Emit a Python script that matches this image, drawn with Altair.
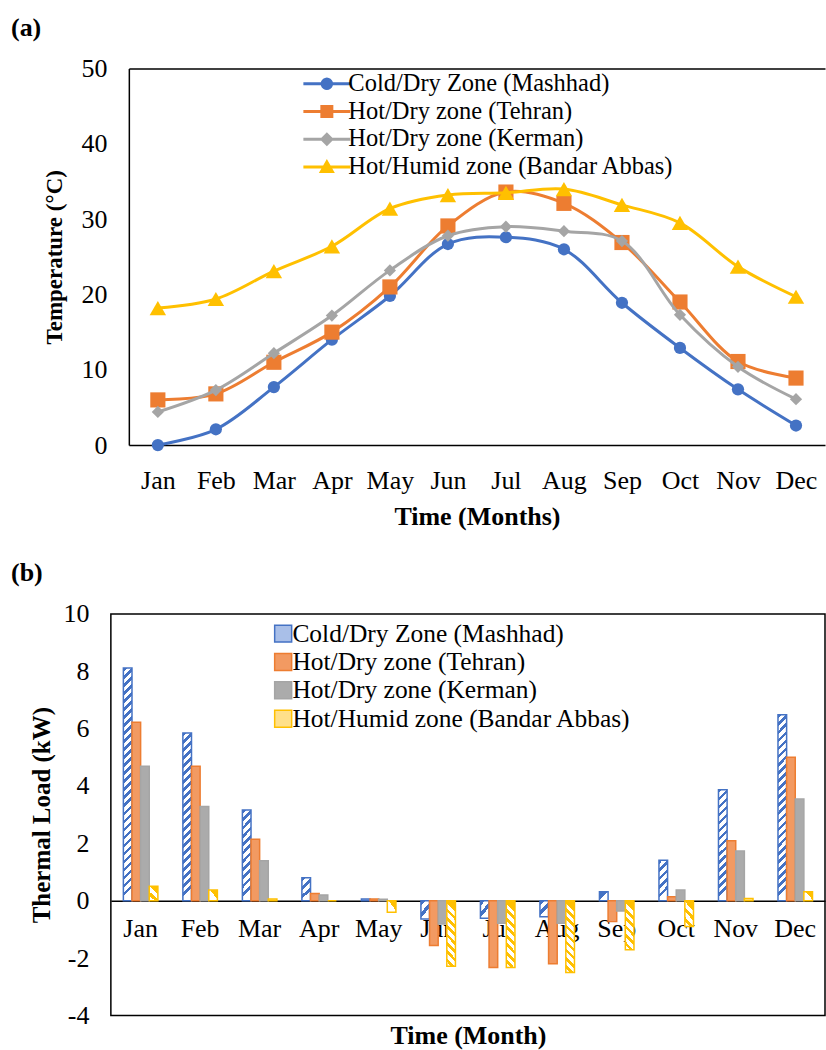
import math
import altair as alt
import pandas as pd

# ---------------- data ----------------
months = ["Jan", "Feb", "Mar", "Apr", "May", "Jun", "Jul", "Aug", "Sep", "Oct", "Nov", "Dec"]
zones = ["Cold/Dry Zone (Mashhad)", "Hot/Dry zone (Tehran)", "Hot/Dry zone (Kerman)", "Hot/Humid zone (Bandar Abbas)"]

temp_mashhad = [0.0, 2.1, 7.7, 14.0, 19.8, 26.7, 27.6, 26.0, 18.9, 12.9, 7.4, 2.6]
temp_tehran = [6.0, 6.8, 11.0, 15.0, 21.0, 29.1, 33.6, 32.1, 26.9, 19.0, 11.1, 8.9]
temp_kerman = [4.4, 7.3, 12.2, 17.2, 23.2, 27.8, 29.0, 28.4, 27.1, 17.3, 10.4, 6.1]
temp_bandar = [18.2, 19.4, 23.1, 26.4, 31.4, 33.2, 33.5, 34.0, 31.9, 29.5, 23.7, 19.7]

load_mashhad = [8.11, 5.85, 3.16, 0.80, 0.06, -0.64, -0.61, -0.56, 0.31, 1.41, 3.87, 6.48]
load_tehran = [6.22, 4.69, 2.14, 0.25, 0.06, -1.56, -2.33, -2.20, -0.73, 0.14, 2.09, 5.00]
load_kerman = [4.69, 3.28, 1.39, 0.20, 0.05, -0.81, -0.79, -0.79, -0.36, 0.37, 1.73, 3.55]
load_bandar = [0.50, 0.37, 0.06, 0.00, -0.40, -2.29, -2.33, -2.50, -1.71, -0.90, 0.08, 0.31]

temp_ticks = [0, 10, 20, 30, 40, 50]
load_ticks = [-4, -2, 0, 2, 4, 6, 8, 10]

# ---------------- style ----------------
FONT = "Liberation Serif"
line_colors = ["#4472C4", "#ED7D31", "#A5A5A5", "#FFC000"]
marker_shapes = ["circle", "square", "diamond", "triangle-up"]
marker_sizes = [150, 230, 150, 270]
bar_fills = ["#A9BFE8", "#F29A62", "#ABABAB", "#FFE08A"]
bar_strokes = ["#4472C4", "#ED7D31", "#A5A5A5", "#FFC000"]

GROUP_W = 715          # both panels share the same origin and group width
TOP_SHIFT = 18         # panel (a) frame starts 18 px right of panel (b) frame
TOP_H = 377
BOT_H = 402
BOT_DOMAIN = [-4, 10]
PAD_INNER = 0.42


def _poly(points):
    return "M" + "L".join(f"{x:.3f},{y:.3f}" for x, y in points) + "Z"


# legend symbols for the line chart: line segment + marker (units: 10 px)
_seg = _poly([(-2.35, -0.15), (2.35, -0.15), (2.35, 0.15), (-2.35, 0.15)])
_circ = _poly([(0.62 * math.cos(2 * math.pi * i / 20), 0.62 * math.sin(2 * math.pi * i / 20)) for i in range(20)])
legend_paths = [
    _seg + _circ,
    _seg + _poly([(-0.65, -0.65), (0.65, -0.65), (0.65, 0.65), (-0.65, 0.65)]),
    _seg + _poly([(0, -0.7), (0.7, 0), (0, 0.7), (-0.7, 0)]),
    _seg + _poly([(0, -0.8), (0.8, 0.6), (-0.8, 0.6)]),
]

# ---------------- tables ----------------
rows = []
for z, vals in zip(zones, [temp_mashhad, temp_tehran, temp_kerman, temp_bandar]):
    for m, v in zip(months, vals):
        rows.append({"month": m, "zone": z, "temp": v})
df_t = pd.DataFrame(rows)

rows = []
for z, vals in zip(zones, [load_mashhad, load_tehran, load_kerman, load_bandar]):
    for m, v in zip(months, vals):
        rows.append({"month": m, "zone": z, "load": v})
df_b = pd.DataFrame(rows)

# ---------------- chart (a) ----------------
cscale = alt.Scale(domain=zones, range=line_colors)
xscale_top = alt.Scale(type="point", domain=months, padding=0.5, range=[TOP_SHIFT, GROUP_W])
yscale_top = alt.Scale(domain=[0, 50], nice=False, zero=False)

x_top = alt.X(
    "month:N", sort=months, scale=xscale_top,
    axis=alt.Axis(title="Time (Months)", labelAngle=0, labelFontSize=26, labelPadding=22,
                  ticks=False, tickSize=0, domain=True, domainColor="#000", domainWidth=1.5,
                  grid=False, titleFontSize=26, titleFontWeight="bold", titlePadding=11),
)
x_top_border = alt.X(
    "month:N", sort=months, scale=xscale_top,
    axis=alt.Axis(orient="top", title=None, labels=False, ticks=False, tickSize=0, domain=True,
                  domainColor="#000", domainWidth=1.5, grid=False),
)
x_none = alt.X("month:N", sort=months, scale=xscale_top, axis=None)
y_top = alt.Y(
    "temp:Q", scale=yscale_top,
    axis=alt.Axis(title="Temperature  (°C)", values=temp_ticks, labelFontSize=26, labelPadding=22,
                  ticks=False, tickSize=0, domain=True, domainColor="#000", domainWidth=1.5,
                  offset=-TOP_SHIFT, grid=False,
                  titleFontSize=23, titleFontWeight="bold", titlePadding=14),
)

leg_top = alt.Legend(title=None, orient="top-left", offset=3, labelFontSize=24.5, labelLimit=600,
                     symbolSize=400, symbolOpacity=1, symbolStrokeWidth=0,
                     symbolOffset=201, labelOffset=9.25, rowPadding=2.8)

series_layers = []
for i, (z, c, s, sz) in enumerate(zip(zones, line_colors, marker_shapes, marker_sizes)):
    src = alt.Chart(df_t).transform_filter(alt.datum.zone == z)
    series_layers.append(
        src.mark_line(interpolate="catmull-rom", strokeWidth=3, color=c)
        .encode(x=x_top if i == 0 else x_none, y=y_top)
    )
    series_layers.append(
        src.mark_point(shape=s, filled=True, size=sz, opacity=1, color=c)
        .encode(x=x_top_border if i == 0 else x_none, y=y_top)
    )

legend_layer = alt.Chart(df_t).mark_point(filled=True, opacity=0).encode(
    x=x_none, y=y_top,
    color=alt.Color("zone:N", scale=cscale, legend=leg_top),
    shape=alt.Shape("zone:N", scale=alt.Scale(domain=zones, range=legend_paths), legend=leg_top),
)

top = alt.layer(*series_layers, legend_layer).resolve_axis(x="independent").properties(
    width=GROUP_W, height=TOP_H,
    view=alt.ViewBackground(stroke="transparent"),
    title=alt.TitleParams(text="(a)", anchor="start", frame="group", dx=-100, offset=15,
                          fontSize=26, fontWeight="bold", font=FONT, color="#000"),
)

# ---------------- chart (b) ----------------
px_per_unit = BOT_H / (BOT_DOMAIN[1] - BOT_DOMAIN[0])
bar_w = GROUP_W / len(months) * (1 - PAD_INNER) / len(zones)
PERIOD = 8.0


def stripe_gradient(n, color, h_px, sign):
    k = bar_w / h_px
    x1, x2 = (0, k) if sign > 0 else (k, 0)
    stops = []
    for i in range(n):
        a, b, c = i / n, (i + 0.45) / n, (i + 1) / n
        stops += [{"offset": a, "color": color}, {"offset": b, "color": color},
                  {"offset": b, "color": "#FFFFFF"}, {"offset": c, "color": "#FFFFFF"}]
    return {"gradient": "linear", "x1": x1, "y1": 0, "x2": x2, "y2": 1, "stops": stops}


conds = []
for z, color, sign in [(zones[0], line_colors[0], 1), (zones[3], line_colors[3], -1)]:
    for n in range(1, 32):
        lo = (n - 0.5) * PERIOD / px_per_unit
        hi = (n + 0.5) * PERIOD / px_per_unit
        conds.append({
            "test": f"datum.zone === '{z}' && abs(datum.load) >= {lo:.4f} && abs(datum.load) < {hi:.4f}",
            "value": stripe_gradient(n, color, n * PERIOD, sign),
        })

zero_off = BOT_H * (0 - BOT_DOMAIN[0]) / (BOT_DOMAIN[1] - BOT_DOMAIN[0])

leg_bot = alt.Legend(title=None, orient="top-left", offset=6.5, labelFontSize=25.5,
                     labelLimit=600, symbolType="square", symbolSize=289, symbolStrokeWidth=1.5,
                     symbolOffset=152.75, labelOffset={"expr": "-3.5"}, rowPadding=1.4)

bars = alt.Chart(df_b).mark_bar(strokeWidth=1.5).encode(
    x=alt.X("month:N", sort=months,
            scale=alt.Scale(domain=months, paddingInner=PAD_INNER, paddingOuter=PAD_INNER / 2),
            axis=alt.Axis(title="Time (Month)", labelAngle=0, labelFontSize=26, labelPadding=15,
                          ticks=False, tickSize=0, domain=True, domainColor="#000", domainWidth=1.5,
                          grid=False, offset=-zero_off,
                          titleFontSize=26, titleFontWeight="bold", titleY=143,
                          titleBaseline="alphabetic")),
    xOffset=alt.XOffset("zone:N", scale=alt.Scale(domain=zones, paddingInner=0, paddingOuter=0)),
    y=alt.Y("load:Q", scale=alt.Scale(domain=BOT_DOMAIN, nice=False, zero=False),
            axis=alt.Axis(title="Thermal Load (kW)", values=load_ticks, labelExpr="'' + datum.value",
                          labelFontSize=26, labelPadding=22, ticks=False, tickSize=0, domain=False,
                          grid=False, titleFontSize=25, titleFontWeight="bold", titlePadding=8)),
    fill=alt.Fill("zone:N", scale=alt.Scale(domain=zones, range=bar_fills), legend=leg_bot,
                  condition=conds),
    stroke=alt.Stroke("zone:N", scale=alt.Scale(domain=zones, range=bar_strokes), legend=leg_bot),
).properties(
    width=GROUP_W, height=BOT_H,
    title=alt.TitleParams(text="(b)", anchor="start", frame="group", dx=-100, offset=15,
                          fontSize=26, fontWeight="bold", font=FONT, color="#000"),
)

chart = (
    alt.vconcat(top, bars, spacing=28)
    .resolve_scale(color="independent", shape="independent", fill="independent", stroke="independent")
    .resolve_legend(color="independent", shape="independent", fill="independent", stroke="independent")
    .properties(padding={"left": 10, "top": 13, "right": 0, "bottom": 0})
    .configure(font=FONT)
    .configure_view(stroke="#000", strokeWidth=1.5)
    .configure_axis(labelFont=FONT, titleFont=FONT, labelColor="#000", titleColor="#000")
    .configure_legend(labelFont=FONT, labelColor="#000")
)

chart.save("out.html", embed_options={"renderer": "svg", "actions": False})
